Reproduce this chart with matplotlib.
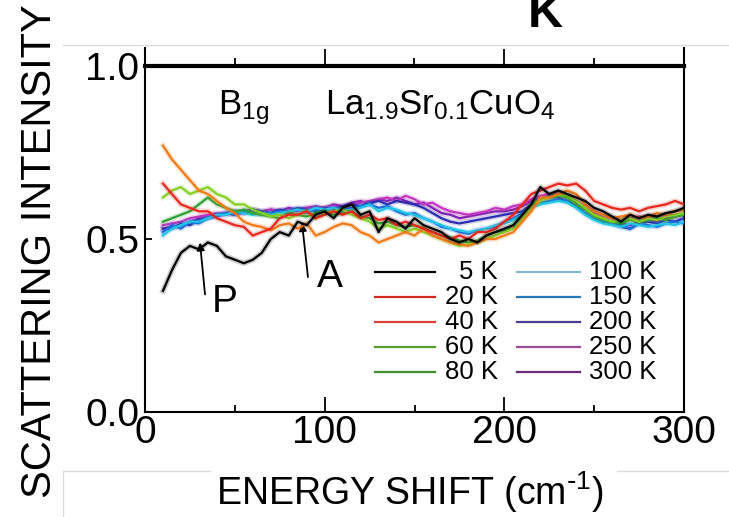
import numpy as np
import matplotlib
matplotlib.use('Agg')
import matplotlib.pyplot as plt
import matplotlib.patheffects as pe
from matplotlib.lines import Line2D

plt.rcParams['font.family'] = 'Liberation Sans'
plt.rcParams['mathtext.default'] = 'regular'

# energy shift grid (cm^-1)
shift = np.arange(10, 301, 5)

temps = ['5 K', '20 K', '40 K', '60 K', '80 K', '100 K', '150 K', '200 K', '250 K', '300 K']

i_5k = [0.35, 0.41, 0.46, 0.48, 0.47, 0.49, 0.48, 0.45, 0.44, 0.43,
        0.44, 0.46, 0.50, 0.52, 0.51, 0.55, 0.54, 0.57, 0.58, 0.56,
        0.59, 0.60, 0.57, 0.58, 0.52, 0.56, 0.55, 0.53, 0.56, 0.54,
        0.53, 0.52, 0.50, 0.49, 0.50, 0.49, 0.51, 0.52, 0.53, 0.54,
        0.57, 0.60, 0.65, 0.63, 0.64, 0.63, 0.62, 0.61, 0.59, 0.58,
        0.565, 0.55, 0.57, 0.56, 0.57, 0.565, 0.575, 0.58, 0.59]
i_20k = [0.66, 0.63, 0.60, 0.59, 0.58, 0.58, 0.56, 0.55, 0.54, 0.535,
         0.51, 0.52, 0.53, 0.56, 0.57, 0.57, 0.58, 0.56, 0.57, 0.58,
         0.57, 0.58, 0.56, 0.57, 0.555, 0.56, 0.54, 0.55, 0.54, 0.53,
         0.52, 0.51, 0.50, 0.51, 0.50, 0.52, 0.52, 0.53, 0.55, 0.57,
         0.60, 0.63, 0.64, 0.65, 0.66, 0.655, 0.66, 0.64, 0.61, 0.60,
         0.59, 0.585, 0.59, 0.58, 0.59, 0.595, 0.60, 0.61, 0.60]
i_40k = [0.77, 0.73, 0.70, 0.67, 0.64, 0.63, 0.61, 0.59, 0.575, 0.55,
         0.54, 0.535, 0.525, 0.54, 0.545, 0.53, 0.545, 0.51, 0.52, 0.535,
         0.545, 0.54, 0.52, 0.51, 0.49, 0.50, 0.51, 0.52, 0.51, 0.53,
         0.51, 0.50, 0.49, 0.485, 0.48, 0.49, 0.50, 0.50, 0.51, 0.52,
         0.55, 0.58, 0.62, 0.62, 0.63, 0.64, 0.63, 0.60, 0.58, 0.57,
         0.56, 0.565, 0.57, 0.56, 0.565, 0.575, 0.57, 0.58, 0.585]
i_60k = [0.62, 0.64, 0.65, 0.63, 0.64, 0.65, 0.63, 0.62, 0.60, 0.60,
         0.585, 0.575, 0.565, 0.57, 0.56, 0.57, 0.58, 0.56, 0.575, 0.58,
         0.585, 0.57, 0.56, 0.55, 0.53, 0.54, 0.53, 0.52, 0.53, 0.52,
         0.51, 0.50, 0.49, 0.48, 0.485, 0.49, 0.50, 0.51, 0.52, 0.53,
         0.56, 0.59, 0.61, 0.62, 0.63, 0.625, 0.61, 0.59, 0.57, 0.56,
         0.55, 0.555, 0.56, 0.55, 0.56, 0.555, 0.565, 0.57, 0.575]
i_80k = [0.55, 0.56, 0.57, 0.58, 0.60, 0.62, 0.60, 0.59, 0.58, 0.585,
         0.575, 0.57, 0.565, 0.56, 0.575, 0.57, 0.565, 0.575, 0.58, 0.57,
         0.575, 0.58, 0.565, 0.56, 0.545, 0.55, 0.54, 0.535, 0.54, 0.53,
         0.52, 0.51, 0.505, 0.495, 0.49, 0.495, 0.51, 0.52, 0.525, 0.54,
         0.565, 0.60, 0.615, 0.62, 0.625, 0.62, 0.60, 0.585, 0.565, 0.555,
         0.55, 0.545, 0.555, 0.55, 0.555, 0.56, 0.555, 0.565, 0.57]
i_100k = [0.51, 0.53, 0.54, 0.55, 0.55, 0.56, 0.57, 0.57, 0.58, 0.575,
          0.57, 0.575, 0.57, 0.575, 0.58, 0.585, 0.58, 0.59, 0.585, 0.59,
          0.58, 0.585, 0.59, 0.60, 0.58, 0.59, 0.585, 0.575, 0.57, 0.56,
          0.55, 0.54, 0.53, 0.525, 0.52, 0.525, 0.53, 0.54, 0.545, 0.555,
          0.57, 0.59, 0.60, 0.605, 0.61, 0.605, 0.59, 0.57, 0.555, 0.545,
          0.54, 0.535, 0.545, 0.54, 0.535, 0.54, 0.545, 0.54, 0.55]
i_150k = [0.52, 0.54, 0.53, 0.55, 0.545, 0.56, 0.565, 0.575, 0.57, 0.58,
          0.575, 0.57, 0.575, 0.58, 0.575, 0.585, 0.575, 0.585, 0.58, 0.59,
          0.585, 0.59, 0.595, 0.60, 0.59, 0.595, 0.58, 0.57, 0.575, 0.56,
          0.55, 0.535, 0.53, 0.52, 0.515, 0.525, 0.53, 0.535, 0.55, 0.56,
          0.575, 0.595, 0.605, 0.61, 0.615, 0.61, 0.595, 0.575, 0.56, 0.55,
          0.545, 0.54, 0.53, 0.545, 0.54, 0.535, 0.545, 0.55, 0.545]
i_200k = [0.53, 0.53, 0.545, 0.54, 0.555, 0.56, 0.57, 0.575, 0.58, 0.575,
          0.585, 0.58, 0.575, 0.585, 0.58, 0.59, 0.585, 0.58, 0.59, 0.585,
          0.595, 0.60, 0.595, 0.605, 0.61, 0.60, 0.61, 0.605, 0.60, 0.59,
          0.575, 0.56, 0.55, 0.545, 0.55, 0.555, 0.56, 0.565, 0.57, 0.575,
          0.58, 0.60, 0.615, 0.62, 0.62, 0.61, 0.60, 0.585, 0.57, 0.555,
          0.545, 0.535, 0.53, 0.545, 0.55, 0.545, 0.555, 0.55, 0.56]
i_250k = [0.54, 0.545, 0.55, 0.56, 0.565, 0.57, 0.575, 0.57, 0.58, 0.575,
          0.58, 0.575, 0.585, 0.58, 0.585, 0.58, 0.59, 0.585, 0.59, 0.595,
          0.59, 0.60, 0.605, 0.61, 0.615, 0.62, 0.61, 0.625, 0.615, 0.60,
          0.605, 0.59, 0.58, 0.575, 0.57, 0.575, 0.58, 0.59, 0.585, 0.595,
          0.60, 0.615, 0.625, 0.63, 0.635, 0.625, 0.61, 0.595, 0.58, 0.565,
          0.56, 0.555, 0.56, 0.565, 0.56, 0.565, 0.57, 0.565, 0.575]
i_300k = [0.53, 0.535, 0.54, 0.55, 0.56, 0.565, 0.57, 0.575, 0.57, 0.58,
          0.585, 0.58, 0.585, 0.58, 0.59, 0.585, 0.59, 0.595, 0.59, 0.60,
          0.595, 0.605, 0.61, 0.60, 0.615, 0.61, 0.62, 0.61, 0.60, 0.605,
          0.59, 0.575, 0.57, 0.56, 0.565, 0.57, 0.575, 0.58, 0.58, 0.585,
          0.595, 0.61, 0.62, 0.625, 0.63, 0.62, 0.605, 0.59, 0.575, 0.56,
          0.55, 0.545, 0.54, 0.55, 0.555, 0.55, 0.56, 0.565, 0.57]

spectra = [i_5k, i_20k, i_40k, i_60k, i_80k, i_100k, i_150k, i_200k, i_250k, i_300k]

line_colors = ['black', '#e8281e', '#f07a18', '#86d024', '#2fa033',
               '#22c6e6', '#1a62dc', '#2c2cae', '#c436c0', '#7e22ae']
key_colors = ['black', '#d42a24', '#e0403a', '#5a9e2f', '#3f8f2f',
              '#80b8cc', '#2878b8', '#4b3d8f', '#a04a98', '#6c2a7a']

fig = plt.figure(figsize=(7.29, 5.17), dpi=100)
ax = fig.add_axes([145 / 729, 105 / 517, 539 / 729, 346 / 517])

# high temperatures first so the low-T curves sit on top
for k in range(len(temps) - 1, -1, -1):
    ax.plot(shift, spectra[k], color=line_colors[k], lw=1.6, zorder=3 + (10 - k) * 0.1,
            path_effects=[pe.Stroke(linewidth=4, foreground=line_colors[k], alpha=0.2), pe.Normal()])

ax.set_xlim(0, 300)
ax.set_ylim(0, 1.0)

for s in ['left', 'right', 'bottom']:
    ax.spines[s].set_linewidth(1.5)
ax.spines['top'].set_linewidth(3)
ax.vlines([0, 300], 1.0, 1.055, color='black', lw=1.5, clip_on=False)

ax.set_xticks([0, 100, 200, 300])
ax.set_xticks([50, 150, 250], minor=True)
ax.set_yticks([0.0, 0.5, 1.0])
ax.set_yticklabels(['0.0', '0.5', '1.0'])
ax.tick_params(axis='x', which='major', direction='in', length=11, width=1.3, labelsize=28, pad=2)
ax.tick_params(axis='x', which='minor', direction='in', length=5, width=1.3)
ax.tick_params(axis='y', which='major', direction='in', length=5, width=1.3, labelsize=28, pad=4)

top = ax.secondary_xaxis('top')
top.set_xticks([100, 200])
top.set_xticks([50, 150, 250], minor=True)
top.set_xticklabels([])
top.spines['top'].set_visible(False)
top.tick_params(axis='x', which='major', direction='out', length=12, width=1.3)
top.tick_params(axis='x', which='minor', direction='out', length=6, width=1.3)

ax.text(40.5, 0.86, 'B$_{1g}$', fontsize=25, ha='left', va='baseline')
ax.text(100, 0.86, 'La$_{1.9}$Sr$_{0.1}$CuO$_4$', fontsize=25, ha='left', va='baseline')

# feature markers
arrow = dict(arrowstyle='-|>', color='black', lw=1.3, mutation_scale=11, shrinkA=0, shrinkB=0)
ax.annotate('', xy=(30.6, 0.49), xytext=(33.4, 0.34), arrowprops=arrow)
ax.annotate('', xy=(87.4, 0.546), xytext=(90.7, 0.39), arrowprops=arrow)
ax.text(44.5, 0.318, 'P', fontsize=28, ha='center', va='center')
ax.text(103, 0.39, 'A', fontsize=28, ha='center', va='center')

# temperature key, two columns with right-aligned labels
rows = [0.405, 0.332, 0.26, 0.188, 0.116]
for k, lab in enumerate(temps):
    col, row = divmod(k, 5)
    x0, x1, xt = [(0.427, 0.538, 0.655), (0.690, 0.807, 0.948)][col]
    ax.add_line(Line2D([x0, x1], [rows[row], rows[row]], transform=ax.transAxes,
                       color=key_colors[k], lw=1.6))
    ax.text(xt, rows[row], lab, transform=ax.transAxes, fontsize=18.5,
            ha='right', va='center')

fig.text(40 / 729, 1 - 251 / 517, 'SCATTERING INTENSITY', rotation=90,
         fontsize=30, ha='center', va='center')
fig.text(410 / 729, 25 / 517, r'ENERGY SHIFT (cm$^{\text{-}1}$)', fontsize=27,
         ha='center', va='center')
fig.text(545 / 729, 1 - 27 / 517, 'K', fontsize=35, fontweight='bold',
         ha='center', va='baseline')

grey = '#dcdcdc'
fig.add_artist(Line2D([63 / 729, 1], [1 - 45 / 517] * 2, color=grey, lw=1))
fig.add_artist(Line2D([63 / 729, 210 / 729], [1 - 471 / 517] * 2, color=grey, lw=1))
fig.add_artist(Line2D([617 / 729, 1], [1 - 471 / 517] * 2, color=grey, lw=1))
fig.add_artist(Line2D([63 / 729, 63 / 729], [0, 1 - 471 / 517], color=grey, lw=1))

fig.savefig('out.png', dpi=100)
